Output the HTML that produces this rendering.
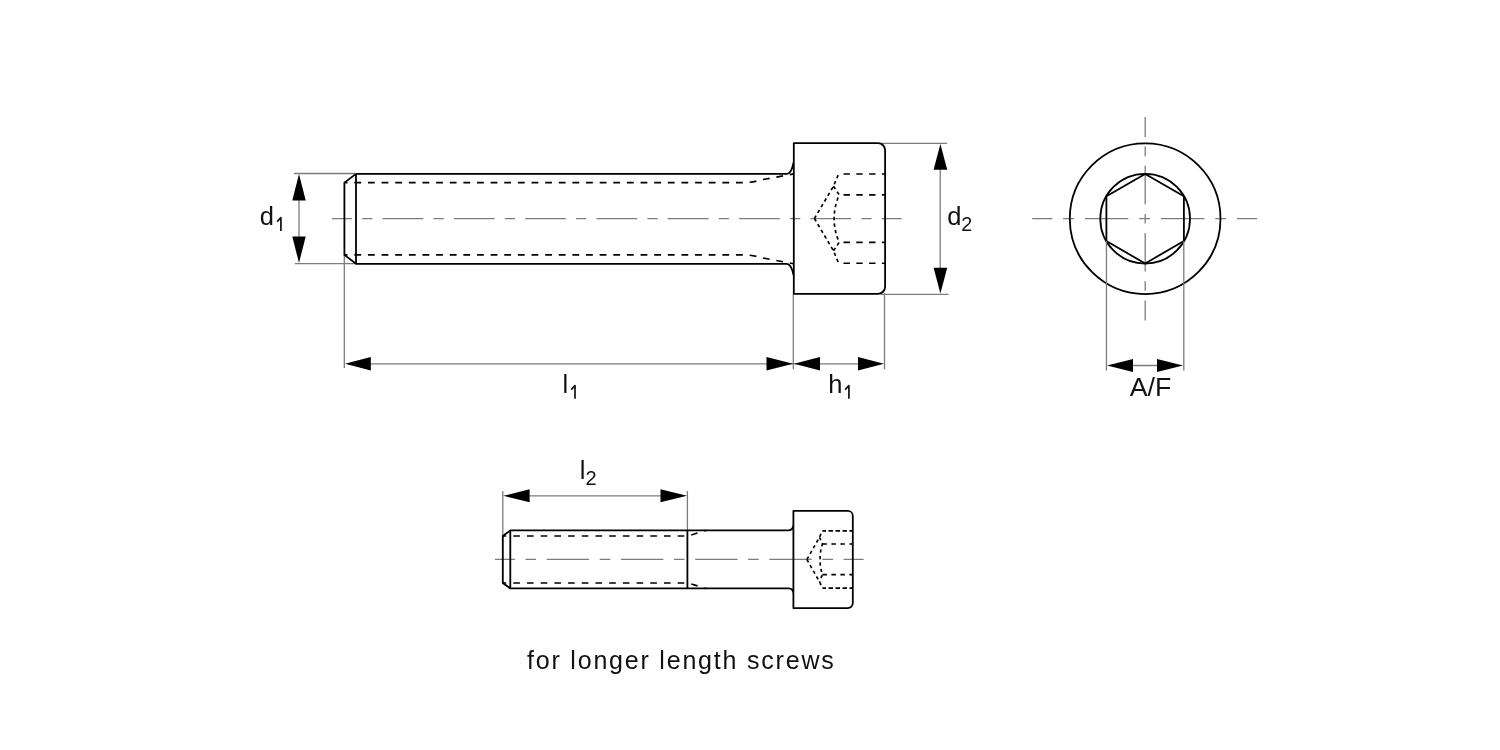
<!DOCTYPE html>
<html><head><meta charset="utf-8"><style>
html,body{margin:0;padding:0;background:#fff;width:1500px;height:750px;overflow:hidden}
svg{display:block}
text{font-family:"Liberation Sans",sans-serif;fill:#111}
</style></head><body>
<svg width="1500" height="750" viewBox="0 0 1500 750">
<rect width="1500" height="750" fill="#fff"/>
<path d="M332 218.65H352 M362.19 218.65H372.37 M382.56 218.65H423.31 M433.49 218.65H443.68 M453.87 218.65H494.61 M504.8 218.65H514.98 M525.17 218.65H565.92 M576.1 218.65H586.29 M596.48 218.65H637.22 M647.41 218.65H657.6 M667.78 218.65H708.53 M718.72 218.65H728.9 M739.09 218.65H779.83 M790.02 218.65H800.21 M810.39 218.65H851.14 M861.33 218.65H871.51 M881.7 218.65H901.7" stroke="#7c7c7c" stroke-width="1.3" fill="none"/>
<path d="M294 173.5H355 M294.8 263.7H355 M299 178V259 M881 143.3H947 M881 294.3H948.5 M940.2 150V288 M344.3 255V368 M793.3 294V369.2 M884.5 293V369.2 M350 363.85H880" stroke="#7c7c7c" stroke-width="1.3" fill="none"/>
<path d="M299 174L292.3 200.5L305.7 200.5Z" fill="#000"/>
<path d="M299 263L292.3 236.5L305.7 236.5Z" fill="#000"/>
<path d="M940.4 144L933.6 169.8L947.2 169.8Z" fill="#000"/>
<path d="M940.4 293.5L933.6 267.7L947.2 267.7Z" fill="#000"/>
<path d="M345 363.8L370.8 357.1L370.8 370.5Z" fill="#000"/>
<path d="M793 363.8L766.5 357.1L766.5 370.5Z" fill="#000"/>
<path d="M794 363.8L820 357.1L820 370.5Z" fill="#000"/>
<path d="M884 363.8L858 357.1L858 370.5Z" fill="#000"/>
<path d="M786.8 173.85H356 L344.4 182.6 V254.9 L356 263.8 H786.8 M356 173.85V263.8 M786.8 173.85C789.6 173.85 792.2 169.35 793.5 162.55 M786.8 263.8C789.6 263.8 792.2 268.3 793.5 275.1 M793.8 143.2H878.1 A7 7 0 0 1 885.1 150.2 V286.8 A7 7 0 0 1 878.1 293.8 H793.8 Z" stroke="#000" stroke-width="1.8" fill="none" stroke-linejoin="round"/>
<path d="M344.4 182.6H742 Q752 182.6 760 180.1 L793.8 173.85 M344.4 254.9H742 Q752 254.9 760 257.4 L793.8 263.8" stroke="#000" stroke-width="1.65" fill="none" stroke-dasharray="6.8 6.83" stroke-dashoffset="3.7"/>
<path d="M843.5 174H885.1 M843.5 194.9H885.1 M843.5 242.3H885.1 M843.5 263.2H885.1" stroke="#000" stroke-width="1.65" fill="none" stroke-dasharray="6.4 6.4"/>
<path d="M814.4 218.5L833.5 186.2L838.6 174 M814.4 218.5L833.5 250.8L838.6 263.2 M833.5 186.2L839.2 194.9 Q829 218.6 839.2 242.3 L833.5 250.8" stroke="#000" stroke-width="1.65" fill="none" stroke-dasharray="3.4 3.2"/>
<path d="M1032.2 218.65H1052.2 M1063.07 218.65H1073.94 M1084.81 218.65H1128.29 M1139.16 218.65H1150.04 M1160.91 218.65H1204.39 M1215.26 218.65H1226.13 M1237 218.65H1257 M1145.2 117V137 M1145.2 146.61V156.22 M1145.2 165.84V204.28 M1145.2 213.89V223.51 M1145.2 233.12V271.56 M1145.2 281.18V290.79 M1145.2 300.4V320.4" stroke="#7c7c7c" stroke-width="1.3" fill="none"/>
<circle cx="1145.15" cy="218.7" r="75.35" stroke="#000" stroke-width="1.8" fill="none"/>
<circle cx="1145.15" cy="218.7" r="44.85" stroke="#000" stroke-width="1.8" fill="none"/>
<path d="M1145.15 173.95 L1183.9 196.32 L1183.9 241.07 L1145.15 263.45 L1106.4 241.07 L1106.4 196.32 Z" stroke="#000" stroke-width="1.8" fill="none"/>
<path d="M1106.45 241V370.5 M1183.8 241V370.5 M1130 365.5H1160" stroke="#7c7c7c" stroke-width="1.3" fill="none"/>
<path d="M1107 365.5L1133 358.9L1133 372.1Z" fill="#000"/>
<path d="M1183 365.5L1157 358.9L1157 372.1Z" fill="#000"/>
<path d="M494.9 559.4H514.9 M525.5 559.4H536.11 M546.71 559.4H589.12 M599.73 559.4H610.33 M620.93 559.4H663.35 M673.95 559.4H684.55 M695.15 559.4H737.57 M748.17 559.4H758.77 M769.38 559.4H811.79 M822.39 559.4H833 M843.6 559.4H863.6" stroke="#7c7c7c" stroke-width="1.3" fill="none"/>
<path d="M502.8 491V536 M687.4 491V530 M525 495.8H665" stroke="#7c7c7c" stroke-width="1.3" fill="none"/>
<path d="M503.3 495.8L529.6 489.3L529.6 502.3Z" fill="#000"/>
<path d="M687 495.8L660.5 489.3L660.5 502.3Z" fill="#000"/>
<path d="M788.6 530.35H510.3 L502.8 536 V583 L510.3 588.45 H788.6 M510.3 530.35V588.45 M687.4 530.35V588.45 M788.6 530.35Q793.4 530.35 793.4 524.35 M788.6 588.45Q793.4 588.45 793.4 594.45 M793.4 510.9H847.8 A5 5 0 0 1 852.8 515.9 V603.1 A5 5 0 0 1 847.8 608.1 H793.4 Z" stroke="#000" stroke-width="1.8" fill="none" stroke-linejoin="round"/>
<path d="M502.8 536H688 L706 530.35 M502.8 583H688 L706 588.45" stroke="#000" stroke-width="1.65" fill="none" stroke-dasharray="6.6 7.1" stroke-dashoffset="3.2"/>
<path d="M822.4 530.8H852.8 M822.4 588.1H852.8" stroke="#000" stroke-width="1.65" fill="none" stroke-dasharray="4.5 2.5" stroke-dashoffset="0.9"/>
<path d="M822.4 544H852.8 M822.4 574.6H852.8" stroke="#000" stroke-width="1.65" fill="none" stroke-dasharray="4.5 4.5"/>
<path d="M806.9 559.5L819.5 537.2L822.4 530.8 M806.9 559.5L819.5 581.8L822.4 588.1 M819.5 537.2L822.4 544 Q817.6 559.3 822.4 574.6 L819.5 581.8" stroke="#000" stroke-width="1.65" fill="none" stroke-dasharray="3.3 3.2"/>
<g style="will-change:transform">
<text x="259.8" y="224.7" font-size="25.5" text-anchor="start">d</text>
<path d="M277.1 221.7L280.9 217.7V230.9" stroke="#111" stroke-width="1.7" fill="none" stroke-linejoin="round"/>
<text x="947.2" y="224.7" font-size="25.5" text-anchor="start">d</text>
<text x="961.3" y="230.8" font-size="19.8" text-anchor="start">2</text>
<text x="562.5" y="392.7" font-size="25.5" text-anchor="start">l</text>
<path d="M571.2 389.6L575 385.6V398.7" stroke="#111" stroke-width="1.7" fill="none" stroke-linejoin="round"/>
<text x="828.3" y="393.1" font-size="25.5" text-anchor="start">h</text>
<path d="M845.1 389.7L848.9 385.7V398.8" stroke="#111" stroke-width="1.7" fill="none" stroke-linejoin="round"/>
<text x="1129.8" y="396" font-size="26.7" text-anchor="start">A/F</text>
<text x="579.7" y="479" font-size="25.5" text-anchor="start">l</text>
<text x="585.4" y="485.1" font-size="20" text-anchor="start">2</text>
<text x="527" y="668.8" font-size="25" text-anchor="start" letter-spacing="1.8">for longer length screws</text>
</g>
</svg>
</body></html>
